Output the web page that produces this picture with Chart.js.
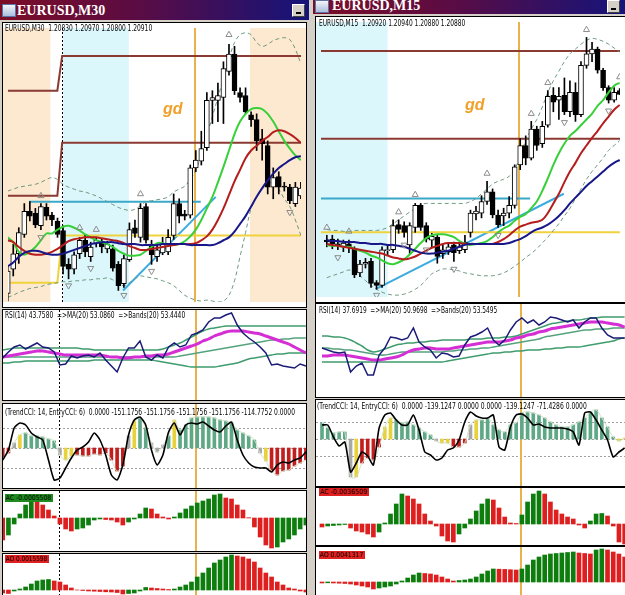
<!DOCTYPE html>
<html lang="en">
<head>
<meta charset="UTF-8">
<title>EURUSD M30 / M15</title>
<style>
  body { margin: 0; width: 625px; height: 595px; overflow: hidden; position: relative; background: #d4d0c8; font-family: "DejaVu Sans", sans-serif; }
  .tbar { position: absolute; background: linear-gradient(90deg, #7c0d26 0%, #5a0c44 45%, #14147a 100%); overflow: hidden; }
  .ttl { position: absolute; color: #fff; font: bold 14px "Liberation Serif", serif; line-height: 14px; white-space: nowrap; }
  .ico { position: absolute; width: 12px; height: 11px; background: linear-gradient(#f4f6fa, #a9bedc); border: 1px solid #5a74a8; }
  .btn { position: absolute; width: 11px; height: 11px; background: #d4d0c8; border: 1px solid; border-color: #fff #404040 #404040 #fff; }
  .btn::after { content: ""; position: absolute; left: 3px; bottom: 2px; width: 5px; height: 2px; background: #000; }
  .pane { position: absolute; background: #fff; border: 1px solid #000; overflow: hidden; }
  .pane canvas { position: absolute; left: 0; top: 0; }
  .lbl { position: absolute; font-size: 8px; line-height: 8px; white-space: nowrap; color: #000; transform-origin: 0 50%; }
  .box { position: absolute; height: 8px; font-size: 7px; line-height: 8px; color: #000; overflow: hidden; }
  .box span { display: inline-block; white-space: nowrap; padding-left: 1px; transform-origin: 0 50%; }
  .gd { position: absolute; font: italic bold 16px "Liberation Sans", sans-serif; line-height: 16px; color: #f0a028; }
</style>
</head>
<body>
  <!-- title bars -->
  <div class="tbar" style="left:0;top:0;width:309px;height:20px">
    <div class="ico" style="left:2px;top:4px"></div>
    <span class="ttl" style="left:17px;top:4px">EURUSD,M30</span>
    <div class="btn" style="left:292px;top:4px"></div>
  </div>
  <div class="tbar" style="left:313px;top:0;width:312px;height:14px">
    <div class="ico" style="left:2px;top:0px"></div>
    <span class="ttl" style="left:19px;top:-1px">EURUSD,M15</span>
    <div class="btn" style="left:294px;top:0px"></div>
  </div>

  <!-- M30 window -->
  <div class="pane" style="left:2px;top:22px;width:303px;height:284px"><canvas id="mainL" width="303" height="284"></canvas></div>
  <div class="pane" style="left:2px;top:309px;width:303px;height:90px"><canvas id="rsiL" width="303" height="90"></canvas></div>
  <div class="pane" style="left:2px;top:403px;width:303px;height:84px"><canvas id="cciL" width="303" height="84"></canvas></div>
  <div class="pane" style="left:2px;top:490px;width:303px;height:60px"><canvas id="acL" width="303" height="60"></canvas></div>
  <div class="pane" style="left:2px;top:553px;width:303px;height:42px"><canvas id="aoL" width="303" height="42"></canvas></div>

  <!-- M15 window -->
  <div class="pane" style="left:315px;top:16px;width:309px;height:285px"><canvas id="mainR" width="309" height="285"></canvas></div>
  <div class="pane" style="left:315px;top:303px;width:309px;height:93px"><canvas id="rsiR" width="309" height="93"></canvas></div>
  <div class="pane" style="left:315px;top:399px;width:309px;height:86px"><canvas id="cciR" width="309" height="86"></canvas></div>
  <div class="pane" style="left:315px;top:487px;width:309px;height:57px"><canvas id="acR" width="309" height="57"></canvas></div>
  <div class="pane" style="left:315px;top:546px;width:309px;height:49px"><canvas id="aoR" width="309" height="49"></canvas></div>

  <!-- indicator captions -->
  <div class="lbl" data-w="147" style="left:5px;top:25px">EURUSD,M30&nbsp; 1.20830 1.20970 1.20800 1.20910</div>
  <div class="lbl" data-w="180" style="left:5px;top:312px">RSI(14) 43.7580&nbsp; =&gt;MA(20) 53.0860&nbsp; =&gt;Bands(20) 53.4440</div>
  <div class="lbl" data-w="290" style="left:5px;top:409px">(TrendCCI: 14, EntryCCI: 6)&nbsp; 0.0000 -151.1756 -151.1756 -151.1756 -151.1756 -114.7752 0.0000</div>
  <div class="box" style="left:5px;top:494px;width:48px;background:#1f8a1f"><span data-w="46">AC -0.0005508</span></div>
  <div class="box" style="left:5px;top:555px;width:44px;background:#e02020"><span data-w="42">AO 0.0015598</span></div>

  <div class="lbl" data-w="146" style="left:319px;top:20px">EURUSD,M15&nbsp; 1.20920 1.20940 1.20880 1.20880</div>
  <div class="lbl" data-w="178" style="left:319px;top:307px">RSI(14) 37.6919&nbsp; =&gt;MA(20) 50.9698&nbsp; =&gt;Bands(20) 53.5495</div>
  <div class="lbl" data-w="270" style="left:317px;top:403px">(TrendCCI: 14, EntryCCI: 6)&nbsp; 0.0000 -139.1247 0.0000 0.0000 -139.1247 -71.4286 0.0000</div>
  <div class="box" style="left:319px;top:488px;width:50px;background:#e02020"><span data-w="48">AC -0.0036509</span></div>
  <div class="box" style="left:319px;top:551px;width:46px;background:#e02020"><span data-w="44">AO 0.0041317</span></div>

  <div class="gd" style="left:163px;top:101px">gd</div>
  <div class="gd" style="left:465px;top:97px">gd</div>

  <script src="https://cdn.jsdelivr.net/npm/chart.js"></script>
  <script>
    // ---------- EURUSD M30 (left) ----------
    const openL  = [1.1982,1.2007,1.2023,1.2043,1.2067,1.2065,1.2052,1.2071,1.2063,1.2057,
                    1.2047,1.2012,1.2007,1.2023,1.2037,1.2020,1.2034,1.2034,1.2028,1.2028,
                    1.2012,1.1992,1.2017,1.2050,1.2040,1.2072,1.2033,1.2020,1.2024,1.2025,
                    1.2042,1.2075,1.2064,1.2063,1.2112,1.2119,1.2133,1.2182,1.2182,1.2185,
                    1.2212,1.2230,1.2190,1.2187,1.2167,1.2162,1.2142,1.2135,1.2092,1.2103,
                    1.2093,1.2092,1.2075,1.2083];
    const highL  = [1.2010,1.2033,1.2050,1.2075,1.2077,1.2070,1.2075,1.2075,1.2066,1.2060,
                    1.2052,1.2018,1.2025,1.2040,1.2042,1.2035,1.2040,1.2038,1.2036,1.2032,
                    1.2015,1.2022,1.2055,1.2058,1.2075,1.2075,1.2037,1.2032,1.2040,1.2048,
                    1.2085,1.2080,1.2068,1.2115,1.2130,1.2150,1.2190,1.2192,1.2200,1.2222,
                    1.2240,1.2238,1.2195,1.2195,1.2170,1.2168,1.2152,1.2140,1.2112,1.2108,
                    1.2097,1.2095,1.2097,1.2097];
    const lowL   = [1.1974,1.2000,1.2013,1.2040,1.2057,1.2050,1.2048,1.2058,1.2052,1.2040,
                    1.2002,1.1997,1.2002,1.2018,1.2020,1.2015,1.2030,1.2024,1.2024,1.2005,
                    1.1985,1.1988,1.2015,1.2040,1.2035,1.2034,1.2012,1.2015,1.2022,1.2022,
                    1.2038,1.2055,1.2058,1.2060,1.2108,1.2115,1.2130,1.2158,1.2160,1.2158,
                    1.2208,1.2188,1.2180,1.2168,1.2155,1.2130,1.2120,1.2085,1.2080,1.2085,
                    1.2088,1.2075,1.2072,1.2080];
    const closeL = [1.2005,1.2023,1.2045,1.2067,1.2062,1.2053,1.2072,1.2062,1.2058,1.2043,
                    1.2010,1.2007,1.2022,1.2037,1.2025,1.2030,1.2037,1.2030,1.2033,1.2008,
                    1.1990,1.2018,1.2048,1.2044,1.2070,1.2037,1.2022,1.2027,1.2033,1.2040,
                    1.2075,1.2062,1.2062,1.2112,1.2120,1.2132,1.2182,1.2185,1.2187,1.2215,
                    1.2230,1.2192,1.2185,1.2170,1.2162,1.2140,1.2137,1.2092,1.2102,1.2092,
                    1.2092,1.2078,1.2092,1.2091];
    const maFastL = [1.2040,1.2035,1.2025,1.2022,1.2025,1.2030,1.2037,1.2044,1.2044,1.2048,
                     1.2051,1.2052,1.2050,1.2047,1.2043,1.2040,1.2037,1.2035,1.2033,1.2030,
                     1.2026,1.2023,1.2021,1.2021,1.2022,1.2026,1.2030,1.2034,1.2034,1.2032,
                     1.2032,1.2033,1.2036,1.2041,1.2048,1.2058,1.2070,1.2082,1.2097,1.2113,
                     1.2130,1.2147,1.2160,1.2168,1.2173,1.2174,1.2173,1.2168,1.2160,1.2150,
                     1.2140,1.2132,1.2125,1.2120];
    const maMidL  = [1.2037,1.2035,1.2030,1.2026,1.2023,1.2022,1.2022,1.2023,1.2025,1.2028,
                     1.2032,1.2036,1.2038,1.2039,1.2040,1.2040,1.2040,1.2039,1.2038,1.2037,
                     1.2036,1.2034,1.2031,1.2029,1.2027,1.2027,1.2028,1.2029,1.2030,1.2031,
                     1.2032,1.2033,1.2033,1.2033,1.2034,1.2037,1.2041,1.2048,1.2058,1.2070,
                     1.2084,1.2098,1.2110,1.2122,1.2130,1.2135,1.2140,1.2144,1.2149,1.2151,
                     1.2150,1.2147,1.2143,1.2138];
    const maSlowL = [1.2010,1.2014,1.2020,1.2024,1.2026,1.2026,1.2025,1.2023,1.2022,1.2022,
                     1.2023,1.2025,1.2027,1.2029,1.2031,1.2033,1.2034,1.2035,1.2035,1.2035,
                     1.2034,1.2033,1.2033,1.2033,1.2032,1.2032,1.2032,1.2032,1.2033,1.2033,
                     1.2033,1.2033,1.2033,1.2032,1.2032,1.2032,1.2032,1.2032,1.2034,1.2037,
                     1.2040,1.2046,1.2054,1.2062,1.2072,1.2082,1.2091,1.2099,1.2106,1.2112,
                     1.2116,1.2120,1.2123,1.2124];
    const bandUpL = [1.2088,1.2090,1.2092,1.2093,1.2094,1.2095,1.2097,1.2100,1.2102,1.2100,
                     1.2095,1.2092,1.2090,1.2088,1.2087,1.2085,1.2083,1.2080,1.2077,1.2074,
                     1.2071,1.2069,1.2068,1.2069,1.2073,1.2077,1.2078,1.2079,1.2080,1.2082,
                     1.2087,1.2090,1.2093,1.2100,1.2110,1.2125,1.2145,1.2165,1.2185,1.2205,
                     1.2225,1.2242,1.2250,1.2252,1.2250,1.2242,1.2238,1.2240,1.2244,1.2246,
                     1.2247,1.2245,1.2235,1.2220];
    const bandLoL = [1.1978,1.1980,1.1983,1.1985,1.1987,1.1988,1.1989,1.1991,1.1992,1.1993,
                     1.1994,1.1994,1.1995,1.1995,1.1996,1.1996,1.1997,1.1997,1.1998,1.1996,
                     1.1992,1.1990,1.1993,1.1997,1.2000,1.1999,1.1998,1.1997,1.1995,1.1993,
                     1.1990,1.1985,1.1980,1.1977,1.1975,1.1974,1.1975,1.1974,1.1973,1.1974,
                     1.1980,1.1995,1.2020,1.2045,1.2070,1.2082,1.2090,1.2095,1.2097,1.2090,
                     1.2080,1.2072,1.2058,1.2042];
    // daily levels: [previous day, current day]; the day changes between dayBreakL bars
    const dayBreakL = [8.97, 9.84];
    const levelHiL  = [1.2192, 1.2228];
    const levelMidL = [1.2083, 1.2138];
    const levelLoL  = [1.1993, 1.2042];
    const hLineL    = [3.9, 34.9, 1.2077];           // from bar, to bar, price
    const trendL    = [20.85, 1.1985, 37.6, 1.2082];  // bar, price, bar, price
    const fracUpBarL = [6, 13, 16, 24, 40];
    const fracUpValL = [1.2083, 1.2050, 1.2048, 1.2085, 1.2250];
    const fracDnBarL = [6, 11, 15, 21, 26, 51];
    const fracDnValL = [1.2040, 1.1990, 1.2008, 1.1980, 1.2005, 1.2066];
    const peachZonesL = [[-1, 7.7], [43.8, 55]];
    const cyanZonesL  = [[10.0, 21.9]];
    const sessionBarL = 9.85;
    const markerBarL  = 33.8;

    const rsiL    = [48,54,59,61,57,60,63,59,58,54, 41,42,50,48,50,51,49,53,46,40,
                     34,48,58,58,65,49,46,51,48,59, 63,59,61,71,73,76,84,88,88,91,
                     93,81,73,68,64,59,53,41,42,40, 39,38,42,40];
    const rsiMaL  = [49,50,51,52,53,54,55,55,54,53, 52,51,51,51,51,51,51,51,50,49,
                     49,48,48,49,49,50,50,51,51,52, 54,56,58,60,62,65,67,70,72,74,
                     75,75,75,74,73,72,70,68,66,64, 62,59,56,53];
    const rsiUpL  = [56,57,58,58,58,58,58,58,58,58, 58,58,58,58,57,57,56,56,56,56,
                     56,56,56,56,56,56,56,56,57,59, 61,63,66,69,72,75,77,78,79,80,
                     80,80,80,80,80,80,80,80,80,80, 80,80,80,80];
    const rsiMidL = [49,49,49,49,49,49,49,49,49,49, 49,49,49,49,49,49,49,49,49,49,
                     49,49,49,49,49,49,49,49,49,49, 49,50,51,52,53,54,55,56,57,58,
                     59,60,61,62,63,64,65,66,66,67, 67,68,68,68];
    const rsiLoL  = [43,43,44,44,45,45,45,45,45,45, 45,45,45,45,45,45,46,46,46,46,
                     46,46,46,46,46,46,46,45,44,43, 42,41,40,39,39,39,39,39,40,41,
                     42,43,45,47,48,49,50,51,52,52, 53,53,53,53];

    const cciHistL  = [-50,-25,25,65,75,60,60,55,45,35, -35,-60,-40,-35,-40,-40,-30,-35,-25,-60,
                       -115,-90,60,135,150,100,25,-20,15,60, 140,90,115,150,155,155,155,150,140,135,
                       125,90,75,60,40,-25,-65,-115,-135,-115, -110,-90,-75,-60];
    // r = down trend, g = up trend, y = entry, n = neutral
    const cciStateL = 'rrnyggggggnyyrrrrrrrrrnyggnnngyggggggggggggggnyrrrrrrr'.split('');
    const cciLineL  = [-60,-10,100,125,115,75,55,40,-60,-160, -150,-100,-50,-10,5,30,75,40,-35,-135,
                       -160,-85,65,140,155,115,-10,-85,-35,80, 125,65,115,125,120,130,110,90,80,110,
                       130,40,-35,-75,-95,-100,-100,-120,-85,-70, -75,-60,-50,-20];

    const acL = [-0.0022,-0.0017,-0.0006,0.0004,0.0013,0.0018,0.0016,0.0013,0.0008,0.0002,
                 -0.0006,-0.0011,-0.0013,-0.0011,-0.0010,-0.0007,-0.0002,-0.0001,-0.00015,-0.0002,
                 -0.0004,-0.0007,-0.0004,-0.0001,0.0004,0.0010,0.0009,0.0004,0.0001,-0.0001,
                 0.0001,0.0005,0.0009,0.0012,0.0015,0.0017,0.0019,0.0023,0.0024,0.0020,
                 0.0019,0.0013,0.0008,0.00003,-0.0009,-0.0019,-0.0027,-0.0030,-0.0029,-0.0024,
                 -0.0021,-0.0017,-0.0011,-0.0007];
    const aoL = [-0.0003,-0.00035,-0.0001,0.0001,0.0003,0.0006,0.0009,0.0010,0.00105,0.0009,
                 0.0008,0.0005,0.0002,0.0000,-0.00005,-0.0001,-0.00012,-0.00015,-0.00018,-0.0002,
                 -0.00025,-0.0004,-0.00035,-0.0003,-0.0001,0.00025,0.0002,0.00015,0.0001,0.00005,
                 0.0001,0.0003,0.0005,0.0008,0.0013,0.0017,0.0022,0.0027,0.0030,0.0033,
                 0.0035,0.0034,0.0033,0.0031,0.0028,0.0022,0.0017,0.0013,0.0008,0.0005,
                 0.0002,0.0001,-0.0001,-0.0002];

    // ---------- EURUSD M15 (right) ----------
    const openR  = [1.1937,1.1938,1.1933,1.1930,1.1933,1.1928,1.1903,1.1912,1.1915,1.1893,
                    1.1890,1.1926,1.1927,1.1953,1.1952,1.1932,1.1950,1.1973,1.1952,1.1937,
                    1.1940,1.1923,1.1925,1.1932,1.1926,1.1927,1.1945,1.1964,1.1965,1.1977,
                    1.1987,1.1963,1.1962,1.1965,1.1973,1.2015,1.2035,1.2022,1.2052,1.2037,
                    1.2056,1.2087,1.2082,1.2087,1.2070,1.2090,1.2067,1.2118,1.2130,1.2135,
                    1.2113,1.2095,1.2082,1.2092];
    const highR  = [1.1942,1.1942,1.1938,1.1937,1.1937,1.1930,1.1916,1.1918,1.1918,1.1895,
                    1.1930,1.1932,1.1958,1.1958,1.1956,1.1955,1.1975,1.1975,1.1955,1.1944,
                    1.1943,1.1932,1.1933,1.1935,1.1934,1.1942,1.1968,1.1972,1.1983,1.1998,
                    1.1990,1.1968,1.1970,1.1982,1.2015,1.2042,1.2045,1.2060,1.2055,1.2060,
                    1.2092,1.2095,1.2095,1.2105,1.2102,1.2100,1.2122,1.2147,1.2142,1.2137,
                    1.2115,1.2097,1.2095,1.2094];
    const lowR   = [1.1930,1.1928,1.1927,1.1925,1.1924,1.1898,1.1899,1.1908,1.1888,1.1886,
                    1.1888,1.1922,1.1924,1.1944,1.1940,1.1923,1.1945,1.1947,1.1935,1.1930,
                    1.1913,1.1918,1.1922,1.1915,1.1923,1.1924,1.1940,1.1958,1.1960,1.1974,
                    1.1960,1.1950,1.1952,1.1960,1.1970,1.2010,1.2015,1.2020,1.2030,1.2033,
                    1.2054,1.2070,1.2062,1.2067,1.2065,1.2060,1.2065,1.2115,1.2122,1.2110,
                    1.2092,1.2079,1.2080,1.2088];
    const closeR = [1.1935,1.1933,1.1931,1.1934,1.1929,1.1901,1.1912,1.1914,1.1892,1.1890,
                    1.1927,1.1927,1.1952,1.1948,1.1945,1.1952,1.1973,1.1950,1.1938,1.1941,
                    1.1920,1.1927,1.1930,1.1924,1.1930,1.1935,1.1965,1.1967,1.1977,1.1987,
                    1.1963,1.1953,1.1965,1.1973,1.2013,1.2035,1.2022,1.2052,1.2035,1.2055,
                    1.2086,1.2080,1.2086,1.2070,1.2090,1.2067,1.2118,1.2130,1.2135,1.2113,
                    1.2095,1.2082,1.2090,1.2088];
    const maFastR = [1.1932,1.1931,1.1931,1.1930,1.1930,1.1928,1.1926,1.1924,1.1921,1.1919,
                     1.1916,1.1913,1.1912,1.1914,1.1917,1.1922,1.1928,1.1934,1.1939,1.1942,
                     1.1943,1.1943,1.1942,1.1940,1.1936,1.1933,1.1932,1.1933,1.1934,1.1936,
                     1.1940,1.1945,1.1949,1.1952,1.1957,1.1961,1.1964,1.1970,1.1977,1.1988,
                     1.2001,1.2015,1.2027,1.2037,1.2045,1.2050,1.2056,1.2062,1.2068,1.2076,
                     1.2082,1.2090,1.2097,1.2100];
    const maMidR  = [1.1933,1.1932,1.1931,1.1930,1.1929,1.1928,1.1927,1.1926,1.1925,1.1924,
                     1.1923,1.1921,1.1919,1.1918,1.1917,1.1918,1.1920,1.1923,1.1926,1.1929,
                     1.1931,1.1933,1.1934,1.1934,1.1934,1.1933,1.1933,1.1933,1.1933,1.1933,
                     1.1933,1.1935,1.1938,1.1942,1.1947,1.1951,1.1953,1.1955,1.1956,1.1958,
                     1.1965,1.1975,1.1985,1.1997,1.2008,1.2017,1.2027,1.2035,1.2043,1.2050,
                     1.2058,1.2065,1.2072,1.2077];
    const maSlowR = [1.1937,1.1936,1.1936,1.1935,1.1935,1.1935,1.1934,1.1934,1.1933,1.1933,
                     1.1933,1.1932,1.1932,1.1931,1.1930,1.1928,1.1926,1.1924,1.1923,1.1923,
                     1.1924,1.1925,1.1926,1.1928,1.1930,1.1932,1.1933,1.1933,1.1933,1.1933,
                     1.1933,1.1933,1.1933,1.1934,1.1936,1.1938,1.1941,1.1945,1.1948,1.1950,
                     1.1953,1.1957,1.1962,1.1968,1.1975,1.1981,1.1987,1.1993,1.1998,1.2003,
                     1.2008,1.2013,1.2017,1.2020];
    const bandUpR = [1.1948,1.1947,1.1947,1.1946,1.1946,1.1947,1.1947,1.1947,1.1947,1.1947,
                     1.1948,1.1950,1.1954,1.1958,1.1962,1.1966,1.1970,1.1974,1.1975,1.1975,
                     1.1975,1.1975,1.1975,1.1975,1.1975,1.1975,1.1977,1.1980,1.1985,1.1990,
                     1.1995,1.1998,1.2000,1.2003,1.2010,1.2025,1.2040,1.2052,1.2062,1.2075,
                     1.2090,1.2102,1.2112,1.2122,1.2130,1.2135,1.2140,1.2144,1.2146,1.2145,
                     1.2143,1.2140,1.2136,1.2132];
    const bandLoR = [1.1898,1.1900,1.1902,1.1904,1.1906,1.1904,1.1900,1.1895,1.1890,1.1886,
                     1.1883,1.1881,1.1880,1.1880,1.1881,1.1883,1.1886,1.1890,1.1896,1.1902,
                     1.1905,1.1907,1.1907,1.1906,1.1905,1.1903,1.1902,1.1901,1.1900,1.1900,
                     1.1900,1.1901,1.1903,1.1906,1.1910,1.1914,1.1919,1.1923,1.1928,1.1934,
                     1.1940,1.1947,1.1954,1.1962,1.1970,1.1980,1.1990,1.2000,1.2008,1.2015,
                     1.2022,1.2030,1.2035,1.2040];
    const levelsR   = [1.2133, 1.2042, 1.1945];        // brown, brown, yellow
    const hLineR    = [-1.5, 36.8, 1.1980];
    const trendR    = [9.1, 1.1887, 42.9, 1.1985];
    const fracUpBarR = [0, 4, 13, 16, 29, 37, 40, 47, 53];
    const fracUpValR = [1.1950, 1.1946, 1.1966, 1.1984, 1.2006, 1.2068, 1.2100, 1.2155, 1.2106];
    const fracDnBarR = [2, 9, 14, 18, 23, 31, 43, 51];
    const fracDnValR = [1.1919, 1.1880, 1.1932, 1.1927, 1.1907, 1.1942, 1.2059, 1.2071];
    const cyanZonesR = [[-2, 11.0]];
    const markerBarR = 34.85;

    const rsiR    = [42,40,38,37,38,18,24,27,15,15, 35,42,53,52,50,52,62,48,43,40,
                     32,37,36,33,34,45,53,55,58,62, 50,45,50,60,68,72,67,70,65,68,
                     73,72,70,68,70,62,68,72,72,62, 55,52,52,52];
    const rsiMaR  = [34,34,35,35,35,34,33,32,31,30, 30,31,32,33,35,38,40,41,42,42,
                     41,41,41,42,43,44,45,46,47,48, 48,48,49,50,52,53,55,56,58,59,
                     61,62,63,64,65,66,67,68,68,68, 67,66,65,63];
    const rsiUpR  = [54,54,53,53,52,50,47,44,40,38, 39,41,43,45,46,47,47,48,48,49,
                     49,50,50,50,50,50,51,51,51,52, 52,52,53,53,54,56,58,60,62,64,
                     66,67,68,69,70,70,71,72,72,73, 73,73,73,73];
    const rsiMidR = [42,42,41,41,40,40,39,38,37,36, 35,35,36,37,38,38,38,38,38,38,
                     38,38,39,39,40,40,41,41,42,42, 43,44,45,46,47,48,49,50,51,53,
                     54,55,56,57,58,59,60,60,61,61, 61,62,62,62];
    const rsiLoR  = [28,28,28,28,28,28,28,28,28,28, 28,28,28,28,28,28,28,28,28,28,
                     28,28,29,30,31,32,33,34,35,36, 37,37,38,38,39,39,40,40,40,41,
                     41,42,42,43,43,43,44,45,46,47, 48,49,51,52];

    const cciHistR  = [96,66,36,42,42,-228,-228,-144,-114,-126, -48,72,126,114,96,102,84,66,42,24,
                       -12,-24,-24,-48,-48,-24,84,114,114,126, 84,54,42,84,96,156,162,156,144,126,
                       102,84,72,72,84,102,126,162,174,126, 72,12,-12,6];
    const cciStateR = 'gggggnyrrrryygggggggnyyrrrnyggggggggggggggggggggggggyyn'.split('');
    const cciLineR  = [84,84,12,-42,-18,-198,-144,-78,-102,-156, 66,144,156,114,84,84,144,54,-78,-96,
                       -126,-114,-66,-54,-6,102,162,138,126,126, 144,-48,-66,72,144,150,126,84,90,72,
                       66,66,66,60,42,-36,156,162,114,54, -6,-108,-78,-54];

    const acR = [-0.0003,-0.0002,-0.00015,-0.0001,-0.00005,-0.0004,-0.0007,-0.0008,-0.0010,-0.0013,
                 -0.0008,0.0001,0.0010,0.0020,0.0030,0.0028,0.0025,0.0020,0.0010,0.0003,
                 -0.0002,-0.0012,-0.0017,-0.0018,-0.0010,-0.0004,0.0005,0.0013,0.0020,0.0025,
                 0.0024,0.0016,0.0007,0.0001,0.00005,0.0009,0.0022,0.0030,0.0033,0.0030,
                 0.0022,0.0014,0.0010,0.0007,0.0005,-0.0001,-0.0004,0.0003,0.0010,0.00105,
                 0.0008,-0.0002,-0.0018,-0.0020];
    const aoR = [-0.0001,-0.00008,-0.0001,-0.00012,-0.00015,-0.0002,-0.0003,-0.0004,-0.0005,-0.0007,
                 -0.0006,-0.0005,-0.0004,-0.0002,0.0001,0.0004,0.0007,0.0009,0.00085,0.0008,
                 0.0007,0.0005,0.0003,0.0001,0.00015,0.0002,0.0003,0.0005,0.0008,0.0011,
                 0.0013,0.00128,0.00126,0.00123,0.0012,0.0013,0.0017,0.0022,0.0025,0.0027,
                 0.0028,0.00285,0.0029,0.00295,0.0030,0.0029,0.00285,0.0028,0.0032,0.0033,
                 0.0032,0.0030,0.0028,0.0025];

    // ---------- drawing ----------
    // background zones, dotted levels and vertical markers, all placed through the scales
    const overlays = {
      id: 'overlays',
      beforeDatasetsDraw(chart, args, o) {
        const { ctx, chartArea: a, scales: { x, y } } = chart;
        ctx.save();
        (o.zones || []).forEach(z => {
          const x0 = x.getPixelForValue(z.from), x1 = x.getPixelForValue(z.to);
          ctx.fillStyle = z.color;
          ctx.fillRect(x0, a.top, x1 - x0, a.bottom - a.top);
        });
        (o.hlines || []).forEach(v => {
          const py = Math.round(y.getPixelForValue(v)) + 0.5;
          ctx.strokeStyle = '#a0a0a0'; ctx.lineWidth = 1; ctx.setLineDash([2, 2]);
          ctx.beginPath(); ctx.moveTo(a.left, py); ctx.lineTo(a.right, py); ctx.stroke();
        });
        (o.vlines || []).forEach(v => {
          const px = Math.round(x.getPixelForValue(v.at)) + (v.width % 2 ? 0.5 : 0);
          ctx.strokeStyle = v.color; ctx.lineWidth = v.width; ctx.setLineDash(v.dash || []);
          ctx.beginPath(); ctx.moveTo(px, a.top); ctx.lineTo(px, a.bottom); ctx.stroke();
        });
        ctx.restore();
      }
    };
    Chart.register(overlays);

    const xL = [0.05, 53.02], xR = [-1.05, 53.06];
    const PEACH = '#fde8d0', CYAN = '#dcf7fc', ORANGE = '#e9b24c';
    const vlL = [{ at: sessionBarL, color: '#000', width: 1, dash: [2, 2] }, { at: markerBarL, color: ORANGE, width: 2 }];
    const vlR = [{ at: markerBarR, color: ORANGE, width: 2 }];

    const pts = arr => arr.map((v, i) => ({ x: i, y: v }));

    function opts(xr, yr, ov) {
      return {
        responsive: false, animation: false, events: [],
        layout: { padding: 0 },
        plugins: { legend: { display: false }, tooltip: { enabled: false }, overlays: ov },
        scales: {
          x: { type: 'linear', min: xr[0], max: xr[1], display: false, offset: false },
          y: { type: 'linear', min: yr[0], max: yr[1], display: false }
        }
      };
    }

    function line(arr, color, width, extra) {
      return Object.assign({ type: 'line', data: pts(arr), borderColor: color, borderWidth: width,
        pointRadius: 0, tension: 0.35, order: 3 }, extra || {});
    }

    function segment(points, color, width) {
      return { type: 'line', data: points, borderColor: color, borderWidth: width, pointRadius: 0, tension: 0, order: 9 };
    }

    function stepped(lv, br) {
      return [{ x: -3, y: lv[0] }, { x: br[0], y: lv[0] }, { x: br[1], y: lv[1] }, { x: 60, y: lv[1] }];
    }

    function candles(o, h, l, c) {
      return [
        { type: 'bar', data: o.map((v, i) => ({ x: i, y: [v, c[i]] })),
          backgroundColor: o.map((v, i) => c[i] >= v ? '#ffffff' : '#000000'),
          borderColor: '#000', borderWidth: 1, borderSkipped: false, barThickness: 5,
          minBarLength: 1, grouped: false, order: 6 },
        { type: 'bar', data: h.map((v, i) => ({ x: i, y: [l[i], v] })),
          backgroundColor: '#000', barThickness: 1, grouped: false, order: 7 }
      ];
    }

    function fractals(bars, vals, down) {
      return { type: 'line', showLine: false, data: bars.map((b, i) => ({ x: b, y: vals[i] })),
        pointStyle: 'triangle', pointRadius: 3.5, pointRotation: down ? 180 : 0,
        pointBorderColor: '#8c8c8c', pointBackgroundColor: 'rgba(0,0,0,0)', pointBorderWidth: 1, order: 1 };
    }

    function osc(id, xr, yr, values, vl) {
      // AC / AO bars: green when the value rises, red when it falls
      const colors = values.map((v, i) => i > 0 && v > values[i - 1] ? '#0d7d0d' : '#de1f1f');
      new Chart(document.getElementById(id), {
        type: 'bar',
        data: { datasets: [{ data: pts(values), backgroundColor: colors, barThickness: 4, grouped: false }] },
        options: opts(xr, yr, { vlines: vl })
      });
    }

    const CCI_COL = { g: '#5fa886', r: '#c31e1e', y: '#e8d23c', n: '#a8a8a8' };
    function cci(id, xr, yr, hist, state, ln, vl) {
      new Chart(document.getElementById(id), {
        type: 'bar',
        data: { datasets: [
          { type: 'bar', data: pts(hist), backgroundColor: state.map(s => CCI_COL[s]), barThickness: 3, grouped: false, order: 5 },
          line(hist, '#cfe0c8', 1, { order: 4 }),
          line(ln, '#000', 1.6, { tension: 0.2, order: 1 })
        ]},
        options: opts(xr, yr, { hlines: [100, 0, -100], vlines: vl })
      });
    }

    function rsi(id, xr, yr, r, ma, up, mid, lo, vl) {
      new Chart(document.getElementById(id), {
        type: 'line',
        data: { datasets: [
          line(up, '#3f9c6e', 1.5, { order: 4 }),
          line(mid, '#55a37e', 1.5, { order: 4 }),
          line(lo, '#3f9c6e', 1.5, { order: 4 }),
          line(ma, '#d42ed4', 3, { order: 3 }),
          line(r, '#1b1b78', 1.5, { tension: 0, order: 1 })
        ]},
        options: opts(xr, yr, { vlines: vl })
      });
    }

    // M30 price
    new Chart(document.getElementById('mainL'), {
      type: 'bar',
      data: { datasets: [
        segment(stepped(levelHiL, dayBreakL), '#8b3a32', 2),
        segment(stepped(levelMidL, dayBreakL), '#8b3a32', 2),
        segment(stepped(levelLoL, dayBreakL), '#f0d23c', 2),
        segment([{ x: hLineL[0], y: hLineL[2] }, { x: hLineL[1], y: hLineL[2] }], '#3aa8c8', 2),
        segment([{ x: trendL[0], y: trendL[1] }, { x: trendL[2], y: trendL[3] }], '#3cabe0', 2),
        line(bandUpL, '#6e9a80', 1, { borderDash: [4, 3], order: 8 }),
        line(bandLoL, '#6e9a80', 1, { borderDash: [4, 3], order: 8 }),
        ...candles(openL, highL, lowL, closeL),
        line(maSlowL, '#17178a', 2),
        line(maMidL, '#b51d1d', 2),
        line(maFastL, '#38d038', 2),
        fractals(fracUpBarL, fracUpValL, false),
        fractals(fracDnBarL, fracDnValL, true)
      ]},
      options: opts(xL, [1.1973, 1.2257], {
        zones: peachZonesL.map(z => ({ from: z[0], to: z[1], color: PEACH }))
          .concat(cyanZonesL.map(z => ({ from: z[0], to: z[1], color: CYAN }))),
        vlines: vlL
      })
    });
    rsi('rsiL', xL, [6, 96], rsiL, rsiMaL, rsiUpL, rsiMidL, rsiLoL, vlL);
    cci('cciL', xL, [-200, 220], cciHistL, cciStateL, cciLineL, vlL);
    osc('acL', xL, [-0.0033, 0.0027], acL, vlL);
    osc('aoL', xL, [-0.0006, 0.0036], aoL, vlL);

    // M15 price
    new Chart(document.getElementById('mainR'), {
      type: 'bar',
      data: { datasets: [
        segment([{ x: -3, y: levelsR[0] }, { x: 60, y: levelsR[0] }], '#8b3a32', 2),
        segment([{ x: -3, y: levelsR[1] }, { x: 60, y: levelsR[1] }], '#8b3a32', 2),
        segment([{ x: -3, y: levelsR[2] }, { x: 60, y: levelsR[2] }], '#f0d23c', 2),
        segment([{ x: hLineR[0], y: hLineR[2] }, { x: hLineR[1], y: hLineR[2] }], '#3aa8c8', 2),
        segment([{ x: trendR[0], y: trendR[1] }, { x: trendR[2], y: trendR[3] }], '#3cabe0', 2),
        line(bandUpR, '#6e9a80', 1, { borderDash: [4, 3], order: 8 }),
        line(bandLoR, '#6e9a80', 1, { borderDash: [4, 3], order: 8 }),
        ...candles(openR, highR, lowR, closeR),
        line(maSlowR, '#17178a', 2),
        line(maMidR, '#b51d1d', 2),
        line(maFastR, '#38d038', 2),
        fractals(fracUpBarR, fracUpValR, false),
        fractals(fracDnBarR, fracDnValR, true)
      ]},
      options: opts(xR, [1.1878, 1.2163], {
        zones: cyanZonesR.map(z => ({ from: z[0], to: z[1], color: CYAN })),
        vlines: vlR
      })
    });
    rsi('rsiR', xR, [-7, 86], rsiR, rsiMaR, rsiUpR, rsiMidR, rsiLoR, vlR);
    cci('cciR', xR, [-282, 234], cciHistR, cciStateR, cciLineR, vlR);
    osc('acR', xR, [-0.0021, 0.0036], acR, vlR);
    osc('aoR', xR, [-0.0014, 0.0035], aoR, vlR);

    // squeeze the small captions to the width they take in the terminal
    document.querySelectorAll('[data-w]').forEach(el => {
      el.style.transform = 'scaleX(' + (el.dataset.w / el.offsetWidth) + ')';
    });
  </script>
</body>
</html>
